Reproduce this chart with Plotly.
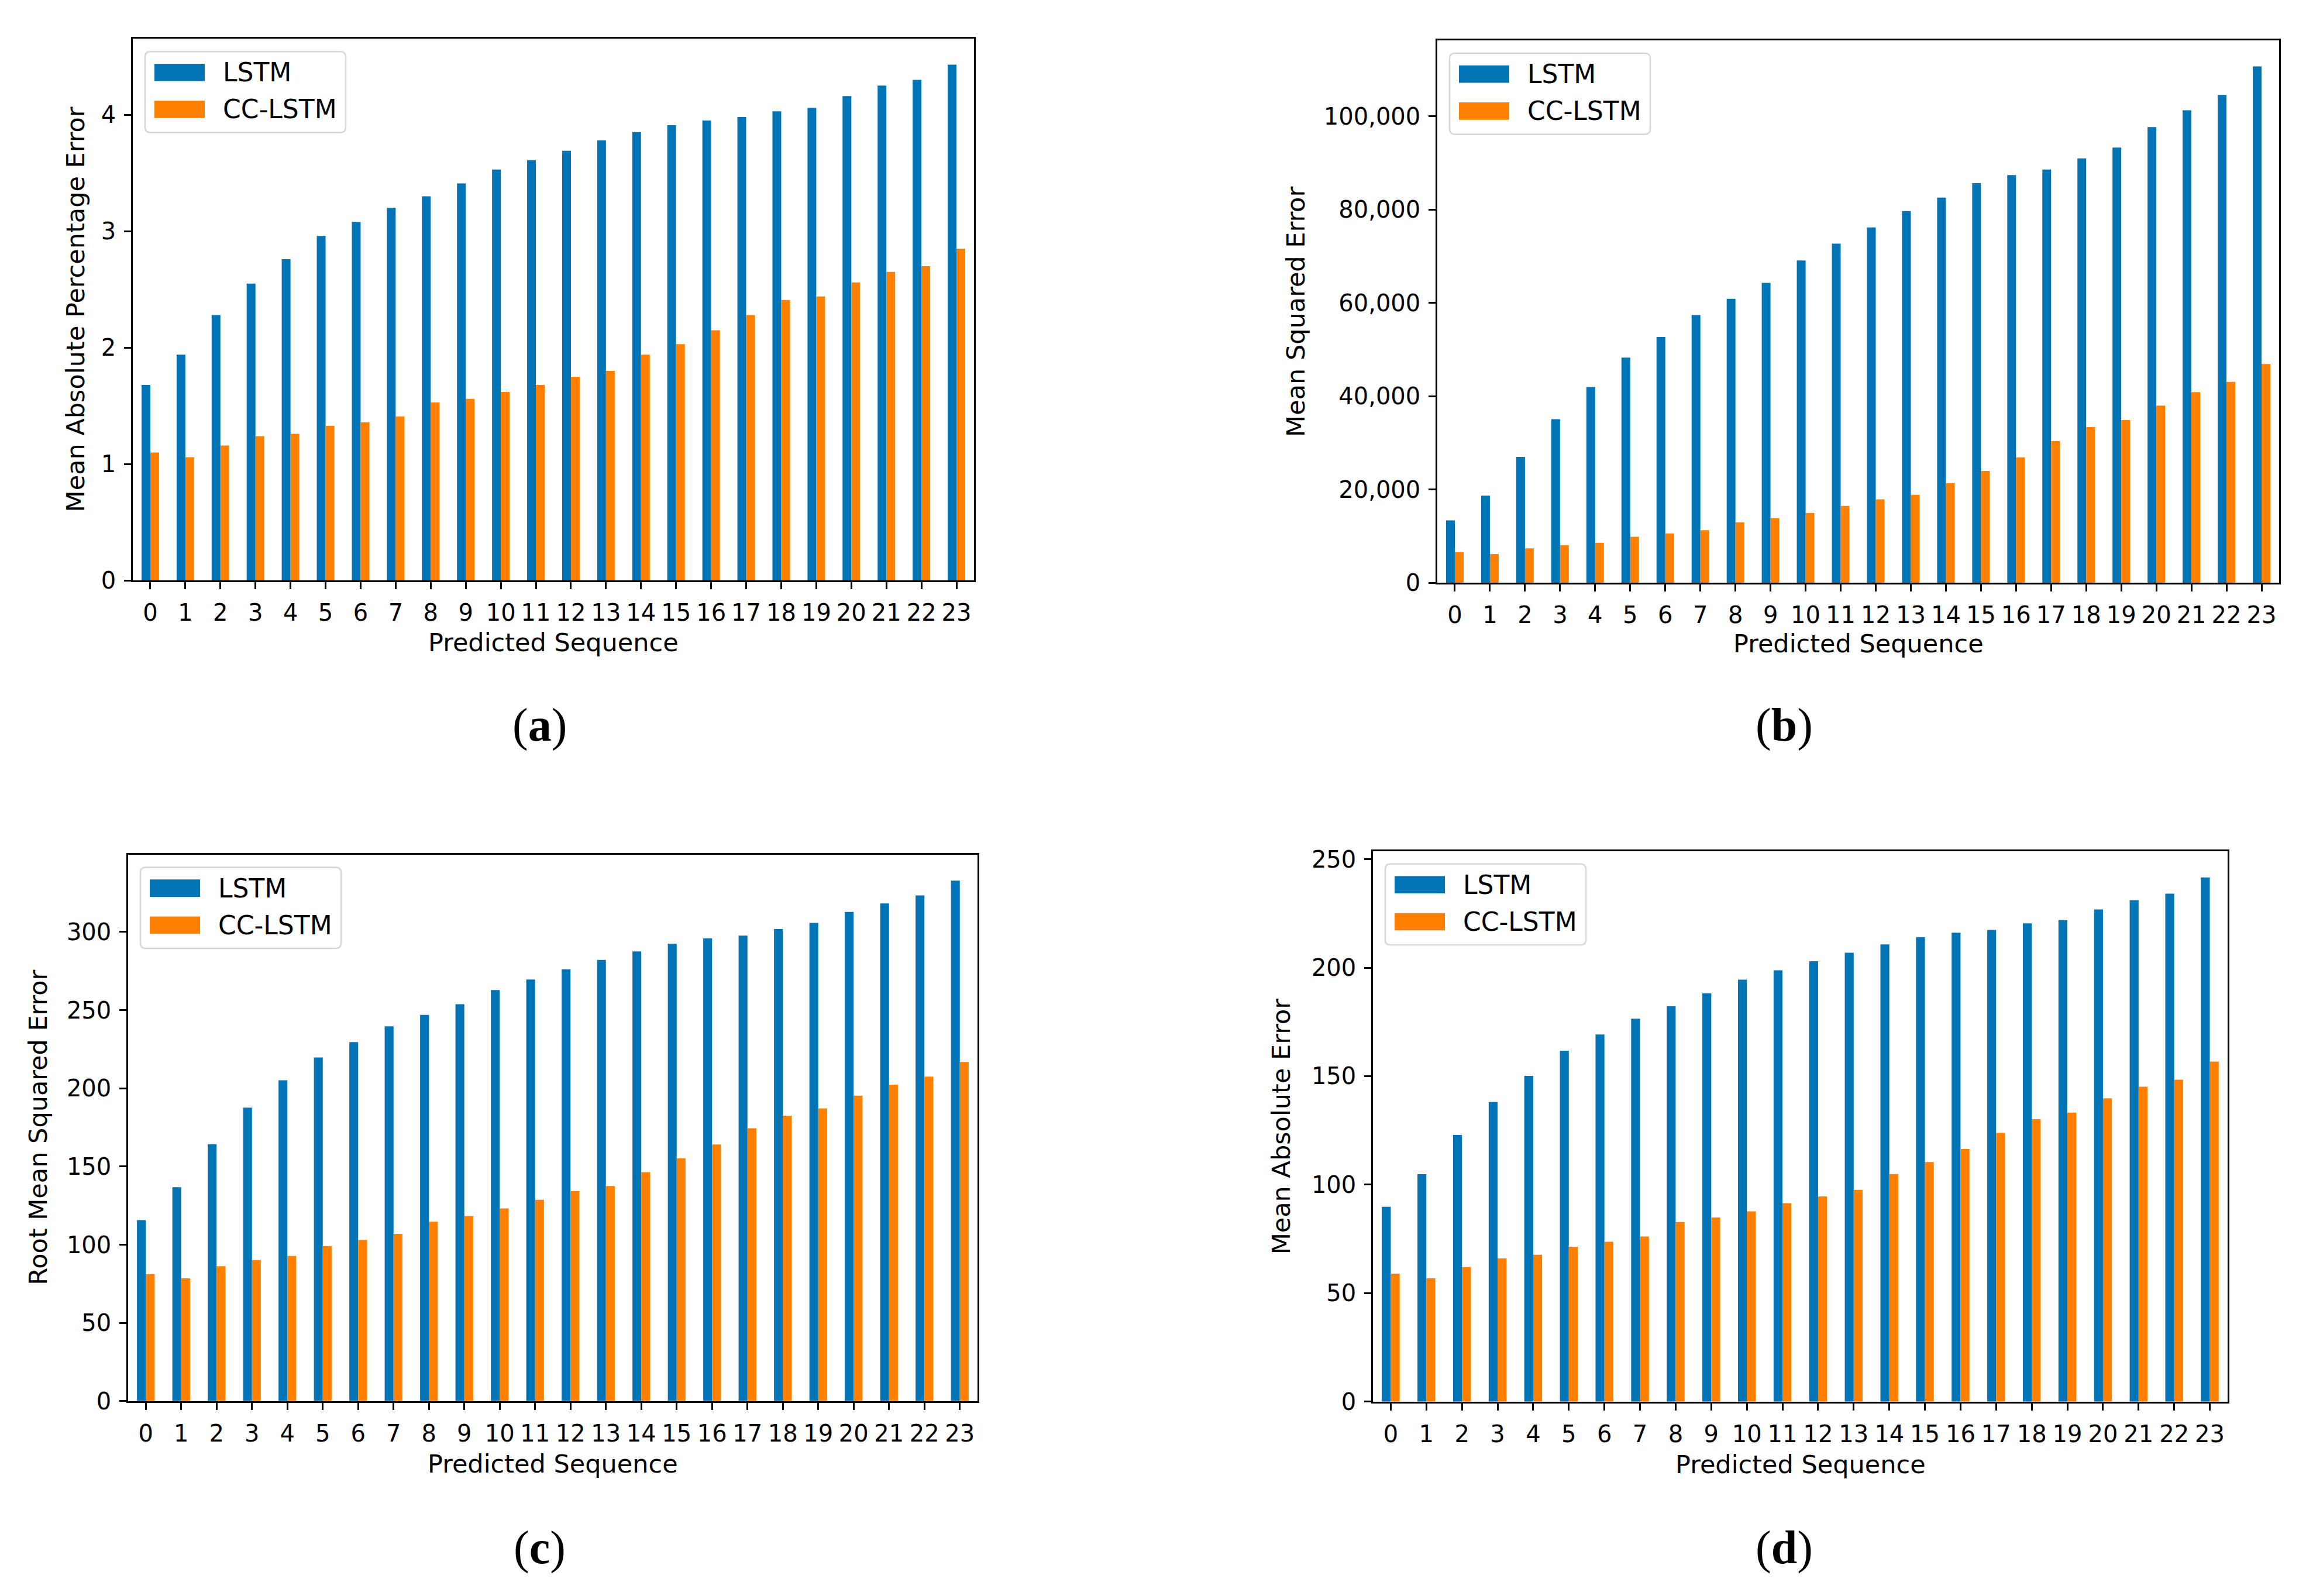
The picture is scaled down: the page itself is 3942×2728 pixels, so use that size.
import plotly.graph_objects as go

W, H = 3942, 2728

sequence = list(range(24))
tick_labels = [str(i) for i in sequence]
series_names = ["LSTM", "CC-LSTM"]

mape_lstm = [1.68, 1.94, 2.28, 2.55, 2.76, 2.96, 3.08, 3.20, 3.30, 3.41, 3.53, 3.61,
             3.69, 3.78, 3.85, 3.91, 3.95, 3.98, 4.03, 4.06, 4.16, 4.25, 4.30, 4.43]
mape_cc = [1.10, 1.06, 1.16, 1.24, 1.26, 1.33, 1.36, 1.41, 1.53, 1.56, 1.62, 1.68,
           1.75, 1.80, 1.94, 2.03, 2.15, 2.28, 2.41, 2.44, 2.56, 2.65, 2.70, 2.85]

mse_lstm = [13400, 18700, 27000, 35100, 42000, 48300, 52700, 57400, 60900, 64300, 69100, 72700,
            76200, 79700, 82600, 85700, 87400, 88600, 91000, 93300, 97700, 101300, 104600, 110700]
mse_cc = [6600, 6200, 7400, 8100, 8600, 9900, 10600, 11300, 13000, 13900, 15000, 16500,
          17900, 18900, 21400, 24000, 26900, 30400, 33400, 34900, 38000, 40900, 43100, 46900]

rmse_lstm = [115.7, 136.8, 164.3, 187.7, 205.1, 219.7, 229.6, 239.7, 247.0, 253.8, 262.9, 269.6,
             276.1, 282.1, 287.6, 292.5, 295.9, 297.7, 301.9, 305.8, 312.8, 318.2, 323.4, 332.8]
rmse_cc = [81.1, 78.5, 86.3, 90.2, 92.8, 99.1, 103.0, 106.9, 114.7, 118.3, 123.2, 128.7,
           134.2, 137.5, 146.4, 155.2, 164.1, 174.5, 182.5, 187.2, 195.3, 202.3, 207.5, 216.8]

mae_lstm = [89.8, 104.8, 122.9, 138.1, 150.1, 161.7, 169.2, 176.5, 182.2, 188.2, 194.5, 198.8,
            203.0, 206.9, 210.7, 214.0, 216.1, 217.4, 220.4, 221.9, 226.8, 231.1, 234.1, 241.6]
mae_cc = [59.0, 56.8, 62.0, 66.0, 67.7, 71.4, 73.7, 76.1, 82.8, 84.9, 87.7, 91.5,
          94.6, 97.6, 104.9, 110.4, 116.4, 123.9, 130.2, 133.2, 139.8, 145.1, 148.4, 156.7]

y_titles = ["Mean Absolute Percentage Error", "Mean Squared Error",
            "Root Mean Squared Error", "Mean Absolute Error"]
panel_labels = ["a", "b", "c", "d"]
y_dticks = [1, 20000, 50, 50]

BLUE = "#0074b5"
ORANGE = "#ff8000"
FONT = "DejaVu Sans"
FS_TICK = 40
FS_TITLE = 43
FS_LEG = 44

# panel frames in pixels: left, right, top, bottom
frames = [
    (219, 1657, 50, 987),
    (2449, 3888, 53, 991),
    (211, 1663, 1461, 2406),
    (2339, 3800, 1455, 2407),
]
ytitle_x = [121, 2207, 57, 2182]
xtitle_y = [1094, 1096, 2514, 2516]
label_pos = [(914, 1237), (3042, 1237), (914, 2660), (3042, 2660)]

datasets = [(mape_lstm, mape_cc), (mse_lstm, mse_cc), (rmse_lstm, rmse_cc), (mae_lstm, mae_cc)]


def px(x):
    return x / W


def py(y):
    return 1 - y / H


fig = go.Figure()
shapes = []
annotations = []
layout = {}

for i, ((lstm, cc), (l, r, t, b)) in enumerate(zip(datasets, frames)):
    n = "" if i == 0 else str(i + 1)
    xa, ya = "x" + n, "y" + n
    fig.add_trace(go.Bar(x=sequence, y=lstm, name=series_names[0], marker=dict(color=BLUE, line=dict(width=0)),
                         xaxis=xa, yaxis=ya, showlegend=False, offsetgroup="a"))
    fig.add_trace(go.Bar(x=sequence, y=cc, name=series_names[1], marker=dict(color=ORANGE, line=dict(width=0)),
                         xaxis=xa, yaxis=ya, showlegend=False, offsetgroup="b"))
    ymax = max(max(lstm), max(cc)) * 1.05
    common = dict(showline=True, linecolor="black", linewidth=2.5, mirror=True, ticks="outside",
                  ticklen=12, tickwidth=2.5, tickcolor="black", showgrid=False, zeroline=False,
                  tickfont=dict(family=FONT, size=FS_TICK, color="black"))
    layout["xaxis" + n] = dict(common, domain=[px(l), px(r)], anchor=ya, range=[-0.5, 23.5],
                               tickmode="array", tickvals=sequence, ticktext=tick_labels,
                               ticklabelstandoff=6)
    layout["yaxis" + n] = dict(common, domain=[py(b), py(t)], anchor=xa, range=[0, ymax],
                               dtick=y_dticks[i], tick0=0, tickformat=",", ticklabelstandoff=6)

    # axis titles
    annotations.append(dict(x=px(ytitle_x[i]), y=py((t + b) / 2), xref="paper", yref="paper",
                            text=y_titles[i], textangle=-90, showarrow=False,
                            font=dict(family=FONT, size=FS_TITLE, color="black"),
                            xanchor="center", yanchor="middle"))
    annotations.append(dict(x=px((l + r) / 2), y=py(xtitle_y[i]), xref="paper", yref="paper",
                            text="Predicted Sequence", showarrow=False,
                            font=dict(family=FONT, size=FS_TITLE, color="black"),
                            xanchor="center", yanchor="middle"))
    # panel label
    annotations.append(dict(x=px(label_pos[i][0]), y=py(label_pos[i][1]), xref="paper", yref="paper",
                            text="(<b>%s</b>)" % panel_labels[i], showarrow=False,
                            font=dict(family="Liberation Serif", size=80, color="black"),
                            xanchor="center", yanchor="middle"))

    # legend box (rounded)
    bl, bt, br, bb = l + 21, t + 22, l + 364, t + 162
    rr = 9
    path = ("M {x0},{y0} L {x1},{y0} Q {xr},{y0} {xr},{y0b} L {xr},{y1t} Q {xr},{yb} {x1},{yb} "
            "L {x0},{yb} Q {xl},{yb} {xl},{y1t} L {xl},{y0b} Q {xl},{y0} {x0},{y0} Z").format(
        x0=px(bl + rr), x1=px(br - rr), xl=px(bl), xr=px(br),
        y0=py(bt), yb=py(bb), y0b=py(bt + rr), y1t=py(bb - rr))
    shapes.append(dict(type="path", path=path, xref="paper", yref="paper",
                       fillcolor="rgba(255,255,255,0.8)", line=dict(color="#d6d6d6", width=2.5),
                       layer="above"))
    for k, (col, name, cy) in enumerate([(BLUE, series_names[0], t + 58), (ORANGE, series_names[1], t + 122)]):
        shapes.append(dict(type="rect", xref="paper", yref="paper",
                           x0=px(l + 37), x1=px(l + 123), y0=py(cy - 15), y1=py(cy + 15),
                           fillcolor=col, line=dict(width=0), layer="above"))
        annotations.append(dict(x=px(l + 152), y=py(cy), xref="paper", yref="paper", text=name,
                                showarrow=False, xanchor="left", yanchor="middle",
                                font=dict(family=FONT, size=FS_LEG, color="black")))

fig.update_layout(**layout)
fig.update_layout(width=W, height=H, margin=dict(l=0, r=0, t=0, b=0),
                  paper_bgcolor="white", plot_bgcolor="white",
                  barmode="group", bargap=0.5, bargroupgap=0,
                  shapes=shapes, annotations=annotations, showlegend=False)

fig.write_html("out.html")
